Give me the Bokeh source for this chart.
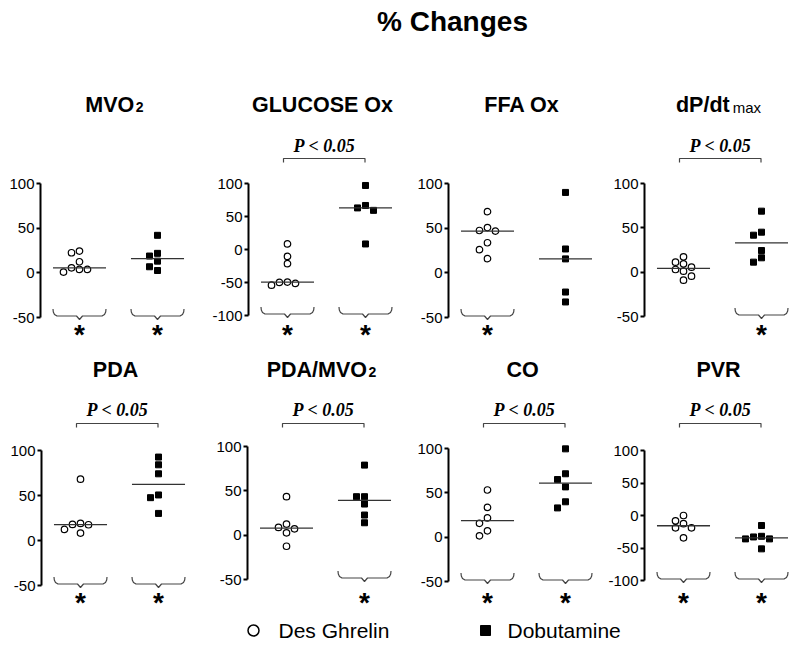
import numpy as np
from bokeh.plotting import figure
from bokeh.layouts import column, row
from bokeh.models import Range1d, FixedTicker, PrintfTickFormatter
from bokeh.core.properties import value
from bokeh.embed import file_html
from bokeh.resources import INLINE

# ---------------- data ----------------
chart_title = "% Changes"
group_names = ["Des Ghrelin", "Dobutamine"]
panel_titles = ["MVO", "GLUCOSE Ox", "FFA Ox", "dP/dt", "PDA", "PDA/MVO", "CO", "PVR"]
panel_suffixes = ["2", "", "", "max", "", "2", "", ""]
ticks_50 = [-50, 0, 50, 100]
ticks_100 = [-100, -50, 0, 50, 100]
panel_ticks = [ticks_50, ticks_100, ticks_50, ticks_50, ticks_50, ticks_50, ticks_50, ticks_100]
p_label = "P < 0.05"
star_label = "*"

des_mvo2 = [22.5, 24.4, 12.4, 3.8, 0.8, 3.8, 5.6]
dob_mvo2 = [42.0, 18.8, 21.8, 13.1, 6.8, 2.6]
des_glucose = [8.4, -10.5, -21.5, -49.9, -54.0, -51.4, -49.3]
dob_glucose = [97.0, 63.0, 59.3, 66.7, 8.4]
des_ffa = [68.5, 50.7, 46.7, 47.4, 33.7, 25.9, 15.9]
dob_ffa = [90.0, 26.7, 15.6, -21.5, -32.6]
des_dpdt = [9.4, 3.0, 11.3, 17.3, 1.1, 5.6, -9.0, -4.5]
dob_dpdt = [68.8, 41.7, 45.1, 24.4, 16.2, 11.3]
des_pda = [68.1, 17.5, 19.0, 17.9, 8.2, 12.3]
dob_pda = [92.7, 84.1, 74.1, 50.6, 47.6, 30.1]
des_pda_mvo2 = [43.4, 7.2, 12.5, 8.7, 2.6, -12.5]
dob_pda_mvo2 = [79.0, 43.4, 43.4, 35.1, 22.7, 14.0]
des_co = [53.2, 33.5, 21.7, 15.6, 7.2, 1.5]
dob_co = [99.6, 71.5, 65.0, 56.7, 39.9, 33.0]
des_pvr = [-8.2, 0.0, -19.0, -19.0, -12.5, -34.4]
dob_pvr = [-15.4, -32.0, -36.0, -36.0, -33.0, -51.3]

des_values = [des_mvo2, des_glucose, des_ffa, des_dpdt, des_pda, des_pda_mvo2, des_co, des_pvr]
dob_values = [dob_mvo2, dob_glucose, dob_ffa, dob_dpdt, dob_pda, dob_pda_mvo2, dob_co, dob_pvr]
p_significant = [False, True, False, True, True, True, True, True]
des_vs_baseline = [True, True, True, False, True, False, True, True]
dob_vs_baseline = [True, True, False, True, True, True, True, True]

# ---------------- layout / style ----------------
FONT = "Liberation Sans"
SERIF = "Liberation Serif"
FIG_W = 200
PX_PER_X = 78.0
ROWS = [dict(fy0=90, H=264, title_base=112, p_base=152, p_line=158, star_c=330),
        dict(fy0=354, H=264, title_base=377, p_base=416, p_line=423, star_c=598)]
# left border, page y of top tick, page y of bottom tick
PANEL_GEOM = [(40, 183, 317), (48, 183, 315), (48, 183, 317), (44, 183, 316),
              (41, 450, 585), (47, 446, 579), (48, 448, 581), (44, 450, 580)]
BRACE = [(-26.5, -7), (-26.2, -4), (-25, -1.6), (-22.5, 0), (-3, 0), (0, 3.5),
         (3, 0), (22.5, 0), (25, -1.6), (26.2, -4), (26.5, -7)]
BOLD_W = {'M': .833, 'V': .667, 'O': .778, '2': .556, 'G': .778, 'L': .611, 'U': .722,
          'C': .722, 'S': .667, 'E': .667, ' ': .278, 'x': .556, 'F': .611, 'A': .722,
          'd': .611, 'P': .667, '/': .278, 't': .333, 'D': .722, 'R': .722}
REG_W = {'m': .833, 'a': .556, 'x': .5, '2': .556}
TITLE_SIZE = 21.5
STAR_SIZE = 28
P_SIZE = 18
MID = 0.36   # text is drawn centred ~0.36 em above its baseline


def text_w(s, table, size):
    return sum(table.get(ch, .6) for ch in s) * size


def mid_from_base(base, size):
    return base - MID * size


def swarm(vals, s, step_px=8.0, min_dy_px=7.0):
    vals = list(vals)
    order = sorted(range(len(vals)), key=lambda k: -vals[k])
    placed = []
    offs = [0.0] * len(vals)
    for k in order:
        for c in [0, -1, 1, -2, 2, -3, 3, -4, 4]:
            if all(not (pc == c and abs(vals[k] - pv) / s < min_dy_px) for pc, pv in placed):
                offs[k] = c
                placed.append((c, vals[k]))
                break
    return [o * step_px / PX_PER_X for o in offs]


def make_panel(i):
    r = ROWS[i // 4]
    L, py_top, py_bot = PANEL_GEOM[i]
    ticks = panel_ticks[i]
    vtop, vbot = ticks[-1], ticks[0]
    s = (vtop - vbot) / (py_bot - py_top)
    y_end = vtop + (py_top - r["fy0"]) * s
    y_start = y_end - r["H"] * s

    def yv(py):
        return y_end - (py - r["fy0"]) * s

    x0 = 0.5
    x1 = x0 + (FIG_W - L) / PX_PER_X
    p = figure(width=FIG_W, height=r["H"], x_range=Range1d(x0, x1), y_range=Range1d(y_start, y_end),
               output_backend="svg", toolbar_location=None, title=None, x_axis_type=None,
               min_border_left=L, min_border_right=0, min_border_top=0, min_border_bottom=0)
    p.outline_line_color = None
    p.grid.visible = False
    ax = p.yaxis[0]
    ax.ticker = FixedTicker(ticks=ticks)
    ax.formatter = PrintfTickFormatter(format="%d")
    ax.bounds = (vbot, vtop)
    ax.axis_line_width = 2
    ax.axis_line_color = "black"
    ax.major_tick_line_width = 2
    ax.major_tick_line_color = "black"
    ax.major_tick_out = 4
    ax.major_tick_in = 0
    ax.minor_tick_line_color = None
    ax.major_label_standoff = 2
    ax.major_label_text_font = FONT
    ax.major_label_text_font_size = "15px"
    ax.major_label_text_color = "black"

    # points
    for g, vals in enumerate((des_values[i], dob_values[i])):
        cx = g + 1
        xs = [cx + o for o in swarm(vals, s)]
        if g == 0:
            p.scatter(xs, vals, marker="circle", size=6.5, fill_color="white",
                      line_color="black", line_width=1.2)
        else:
            p.scatter(xs, vals, marker="square", size=6, fill_color="black",
                      line_color="black", line_width=1)
        med = float(np.median(vals))
        p.segment(x0=[cx - 0.34], y0=[med], x1=[cx + 0.34], y1=[med],
                  line_color="#333333", line_width=1.3)

    # braces & stars (vs baseline)
    for g, flag in enumerate((des_vs_baseline[i], dob_vs_baseline[i])):
        if flag:
            cx = g + 1
            base = py_bot - 1.5
            bx = [cx + dx / PX_PER_X for dx, dyp in BRACE]
            by = [yv(base + dyp) for dx, dyp in BRACE]
            p.line(bx, by, line_color="#444444", line_width=1.2)
            p.text([cx], [yv(r["star_c"] + 3.5)], text=[star_label], text_font=value(FONT),
                   text_font_style="bold", text_font_size=f"{STAR_SIZE}px", text_align="center",
                   text_baseline="middle", text_color="black")

    # between-group significance
    if p_significant[i]:
        xa, xb = 1 - 4 / PX_PER_X, 2 - 0.5 / PX_PER_X
        yl, yt = yv(r["p_line"]), yv(r["p_line"] + 4)
        p.line([xa, xa, xb, xb], [yt, yl, yl, yt], line_color="#444444", line_width=1.2)
        p.text([1.5 - 2 / PX_PER_X], [yv(mid_from_base(r["p_base"], P_SIZE))], text=[p_label],
               text_font=value(SERIF), text_font_style="bold italic", text_font_size=f"{P_SIZE}px",
               text_align="center", text_baseline="middle", text_color="black")

    # panel title
    main, suf = panel_titles[i], panel_suffixes[i]
    w_main = text_w(main, BOLD_W, TITLE_SIZE)
    if suf == "2":
        suf_style, suf_size, gap = "bold", 14, 1.5
        w_suf = gap + text_w(suf, BOLD_W, suf_size)
    elif suf:
        suf_style, suf_size, gap = "normal", 15, 3
        w_suf = gap + text_w(suf, REG_W, suf_size)
    else:
        w_suf = 0
    cxt = 1.5 - 4 / PX_PER_X
    left = cxt - (w_main + w_suf) / 2 / PX_PER_X
    p.text([left], [yv(mid_from_base(r["title_base"], TITLE_SIZE))], text=[main],
           text_font=value(FONT), text_font_style="bold", text_font_size=f"{TITLE_SIZE}px",
           text_align="left", text_baseline="middle", text_color="black")
    if suf:
        p.text([left + (w_main + gap) / PX_PER_X], [yv(mid_from_base(r["title_base"], suf_size))],
               text=[suf], text_font=value(FONT), text_font_style=suf_style,
               text_font_size=f"{suf_size}px", text_align="left", text_baseline="middle",
               text_color="black")
    return p


def blank(fy0, H):
    # a figure whose data units are page pixels (y grows downward)
    p = figure(width=800, height=H, x_range=Range1d(0, 800), y_range=Range1d(fy0 + H, fy0),
               output_backend="svg", toolbar_location=None, title=None,
               x_axis_type=None, y_axis_type=None,
               min_border_left=0, min_border_right=0, min_border_top=0, min_border_bottom=0)
    p.outline_line_color = None
    p.grid.visible = False
    return p


# title
top = blank(0, 90)
top.text([452], [mid_from_base(31, 28)], text=[chart_title], text_font=value(FONT),
         text_font_style="bold", text_font_size="28px", text_align="center",
         text_baseline="middle", text_color="black")

panels = [make_panel(i) for i in range(8)]

# legend
leg = blank(618, 33)
leg_y = 630
leg.scatter([253], [leg_y], marker="circle", size=11, fill_color="white",
            line_color="black", line_width=1.5)
leg.scatter([485], [leg_y], marker="square", size=10, fill_color="black", line_color="black")
leg.text([278, 507], [leg_y, leg_y], text=group_names, text_font=value(FONT),
         text_font_size="21px", text_align="left", text_baseline="middle", text_color="black")

layout = column(top, row(*panels[:4]), row(*panels[4:]), leg)
open("out.html", "w").write(file_html(layout, INLINE))
